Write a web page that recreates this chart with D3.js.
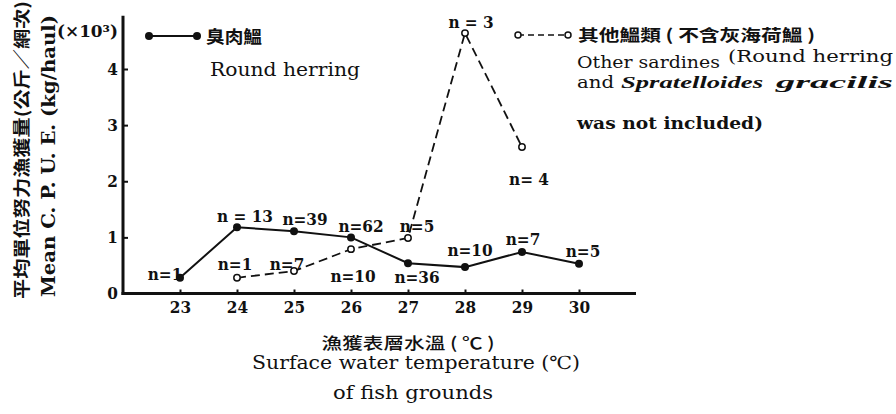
<!DOCTYPE html>
<html>
<head>
<meta charset="utf-8">
<script src="https://cdn.jsdelivr.net/npm/d3@7"></script>
<style>
  body { margin: 0; background: #fff; }
  svg { display: block; }
  text { fill: #111; }
</style>
</head>
<body>
<div id="chart"></div>
<script>

// ###################### DATA ######################
const herringTemps = [23, 24, 25, 26, 27, 28, 29, 30]
const herringValues = [0.28, 1.18, 1.11, 1.0, 0.54, 0.47, 0.74, 0.53]
const herringN = ["n=1", "n = 13", "n=39", "n=62", "n=36", "n=10", "n=7", "n=5"]

const otherTemps = [24, 25, 26, 27, 28, 29]
const otherValues = [0.28, 0.40, 0.79, 0.99, 4.64, 2.61]
const otherN = ["n=1", "n=7", "n=10", "n=5", "n = 3", "n= 4"]

const xTicks = [23, 24, 25, 26, 27, 28, 29, 30]
const yTicks = [0, 1, 2, 3, 4]

// label offsets from each point (px), layout only
const herringLabelOff = [[-15, 2], [8, -5], [11, -6], [10, -5], [9, 20], [5, -11], [1, -7], [4, -7]]
const otherLabelOff = [[-2, -8], [-7, -1], [2, 33], [9, -6], [6, -5], [7, 38]]

// ###################### CHART ######################
const width = 896
const height = 414
const serif = "'DejaVu Serif', 'Liberation Serif', serif"
const serifC = "'DejaVu Serif Condensed', 'DejaVu Serif', serif"
const cjk = "'Noto Sans CJK TC', 'Noto Sans CJK SC', sans-serif"

const svg = d3.select("#chart").append("svg")
  .attr("width", width)
  .attr("height", height)

const x = d3.scaleLinear().domain([22, 31]).range([123, 636])
const y = d3.scaleLinear().domain([0, 4]).range([293.5, 69])

// axes
svg.append("g")
   .attr("transform", "translate(" + x(22) + ",0)")
   .call(d3.axisLeft(y).tickValues(yTicks).tickSize(-5).tickPadding(5).tickFormat(d3.format("d")))
   .call(g => g.select(".domain").remove())
   .call(g => g.selectAll(".tick line").attr("stroke", "#111").attr("stroke-width", 2))
   .call(g => g.selectAll(".tick text")
      .attr("font-family", serifC).attr("font-weight", "bold").attr("font-size", 17).attr("fill", "#111"))

svg.append("g")
   .attr("transform", "translate(0," + y(0) + ")")
   .call(d3.axisBottom(x).tickValues(xTicks).tickSize(-4).tickPadding(7).tickFormat(d3.format("d")))
   .call(g => g.select(".domain").remove())
   .call(g => g.selectAll(".tick line").attr("stroke", "#111").attr("stroke-width", 2))
   .call(g => g.selectAll(".tick text")
      .attr("font-family", serifC).attr("font-weight", "bold").attr("font-size", 17).attr("fill", "#111"))

svg.append("line")
   .attr("x1", x(22)).attr("x2", x(22))
   .attr("y1", y(0) + 1.5).attr("y2", y(4.95))
   .attr("stroke", "#111").attr("stroke-width", 3)

svg.append("line")
   .attr("x1", x(22) - 1.5).attr("x2", x(31))
   .attr("y1", y(0)).attr("y2", y(0))
   .attr("stroke", "#111").attr("stroke-width", 3)

// ###################### SERIES ######################
const herring = herringTemps.map((t, i) => ({t: t, v: herringValues[i], n: herringN[i], off: herringLabelOff[i]}))
const other = otherTemps.map((t, i) => ({t: t, v: otherValues[i], n: otherN[i], off: otherLabelOff[i]}))

const line = d3.line().x(d => x(d.t)).y(d => y(d.v))

svg.append("path")
   .datum(other)
   .attr("d", line)
   .attr("fill", "none")
   .attr("stroke", "#111")
   .attr("stroke-width", 1.8)
   .attr("stroke-dasharray", "9,5")

svg.append("path")
   .datum(herring)
   .attr("d", line)
   .attr("fill", "none")
   .attr("stroke", "#111")
   .attr("stroke-width", 2)

svg.selectAll(".herringDot")
   .data(herring)
   .enter().append("circle")
   .attr("class", "herringDot")
   .attr("cx", d => x(d.t))
   .attr("cy", d => y(d.v))
   .attr("r", 4)
   .attr("fill", "#111")

svg.selectAll(".otherDot")
   .data(other)
   .enter().append("circle")
   .attr("class", "otherDot")
   .attr("cx", d => x(d.t))
   .attr("cy", d => y(d.v))
   .attr("r", 3.2)
   .attr("fill", "#fff")
   .attr("stroke", "#111")
   .attr("stroke-width", 1.5)

function nLabels(data, cls) {
  svg.selectAll("." + cls)
     .data(data)
     .enter().append("text")
     .attr("class", cls)
     .attr("x", d => x(d.t) + d.off[0])
     .attr("y", d => y(d.v) + d.off[1])
     .attr("text-anchor", "middle")
     .attr("font-family", serifC)
     .attr("font-weight", "bold")
     .attr("font-size", 17)
     .text(d => d.n)
}
nLabels(herring, "herringN")
nLabels(other, "otherN")

// ###################### LEGEND ######################
function addText(txt, px, py, size, opts) {
  opts = opts || {}
  let t = svg.append("text")
     .attr("x", px).attr("y", py)
     .attr("font-family", opts.family || serif)
     .attr("font-size", size)
     .attr("font-weight", opts.weight || "normal")
     .attr("font-style", opts.style || "normal")
     .attr("text-anchor", opts.anchor || "start")
     .text(txt)
  if (opts.len) t.attr("textLength", opts.len).attr("lengthAdjust", "spacingAndGlyphs")
  if (opts.rotate) t.attr("transform", "rotate(-90," + px + "," + py + ")")
  return t
}

svg.append("line").attr("x1", 149).attr("x2", 197).attr("y1", 36).attr("y2", 36)
   .attr("stroke", "#111").attr("stroke-width", 2)
svg.selectAll(".lg1").data([149, 197]).enter().append("circle")
   .attr("cx", d => d).attr("cy", 36).attr("r", 4).attr("fill", "#111")
addText("臭肉鰮", 206, 43, 17, {family: cjk, weight: "bold", len: 56})
addText("Round herring", 210, 76, 19, {len: 150})

svg.append("line").attr("x1", 518).attr("x2", 568).attr("y1", 35).attr("y2", 35)
   .attr("stroke", "#111").attr("stroke-width", 1.5).attr("stroke-dasharray", "6,4")
svg.selectAll(".lg2").data([518, 568]).enter().append("circle")
   .attr("cx", d => d).attr("cy", 35).attr("r", 3)
   .attr("fill", "#fff").attr("stroke", "#111").attr("stroke-width", 1.5)
addText("其他鰮類 ( 不含灰海荷鰮 )", 578, 41, 16, {family: cjk, weight: "bold", len: 237})
addText("Other sardines", 577, 68, 16, {len: 143})
addText("(Round herring", 728, 62, 17, {len: 165})
addText("and", 577, 88, 16, {len: 37})
addText("Spratelloides", 621, 88, 16, {family: "'Liberation Serif', serif", style: "italic", weight: "bold", len: 142})
addText("gracilis", 776, 88, 16, {family: "'Liberation Serif', serif", style: "italic", weight: "bold", len: 117})
addText("was not included)", 577, 129, 17, {weight: "bold", len: 186})

// ###################### AXIS TITLES ######################
addText("(×10³)", 57, 37, 16, {weight: "bold", len: 61})
addText("平均單位努力漁獲量(公斤／網次)", 28, 150, 17, {family: cjk, weight: "bold", anchor: "middle", len: 298, rotate: true})
addText("Mean C. P. U. E. (kg/haul)", 55, 156, 18, {weight: "bold", anchor: "middle", len: 282, rotate: true})

addText("漁獲表層水溫 ( ℃ )", 408, 349, 16, {family: cjk, weight: 500, anchor: "middle", len: 173})
addText("Surface water temperature (℃)", 416, 369, 18, {anchor: "middle", len: 328})
addText("of fish grounds", 413, 399, 18, {anchor: "middle", len: 160})

</script>
</body>
</html>
